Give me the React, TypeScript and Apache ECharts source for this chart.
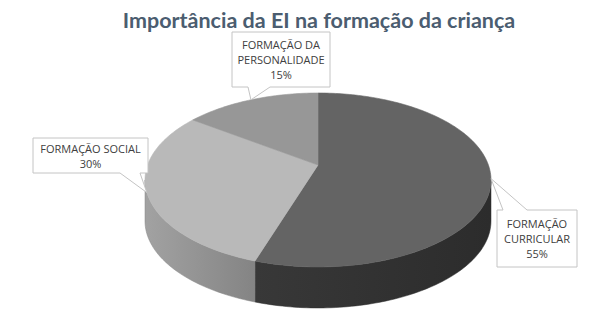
import React, { useEffect, useRef } from "react";
import * as echarts from "echarts";

// ---- data ----
const categories = ["FORMAÇÃO\nCURRICULAR", "FORMAÇÃO SOCIAL", "FORMAÇÃO DA\nPERSONALIDADE"];
const values = [55, 30, 15];
const chartTitle = "Importância da EI na formação da criança";

// ---- styles / layout ----
const topColors = ["#646464", "#b9b9b9", "#979797"];
const sideColors = [
  ["#2c2c2c", "#383838"],
  ["#848484", "#a2a2a2"],
  ["#7a7a7a", "#7a7a7a"],
];
// label callout boxes: [x0, y0, x1, y1, wedgeBaseFrom, wedgeBaseTo, edge]
const labelBoxes: any[] = [
  [497, 210, 577, 267, 503, 527, "top"],
  [33, 138, 148, 173, 120, 140, "bottom"],
  [232, 32, 330, 87, 248, 270, "bottom"],
];

const CX = 318, CY = 165, SX = 170.4, SY = 84.4, K = 0.1724, DEPTH = 41;

function proj(theta: number, dy = 0): number[] {
  const X = Math.sin(theta);
  const Z = -Math.cos(theta);
  const w = 1 - K * Z;
  return [CX + (SX * X) / w, CY + (SY * Z) / w + dy];
}

function arcPts(a: number, b: number, dy = 0): number[][] {
  const n = Math.max(2, Math.ceil(Math.abs(b - a) / 0.02));
  const pts: number[][] = [];
  for (let i = 0; i <= n; i++) pts.push(proj(a + ((b - a) * i) / n, dy));
  return pts;
}

export default function App() {
  const ref = useRef<HTMLDivElement>(null);
  useEffect(() => {
    if (!ref.current) return;
    const chart = echarts.init(ref.current, undefined, { renderer: "svg" });
    const total = values.reduce((s, v) => s + v, 0);
    const thR = Math.acos(-K);
    const thL = 2 * Math.PI - thR;

    const renderItem = (params: any, api: any) => {
      const i = params.dataIndex;
      let cum = 0;
      for (let j = 0; j < i; j++) cum += values[j];
      const v = api.value(0);
      const a = (cum / total) * 2 * Math.PI;
      const b = ((cum + v) / total) * 2 * Math.PI;
      const children: any[] = [];
      // side
      const sa = Math.max(a, thR);
      const sb = Math.min(b, thL);
      if (sb > sa) {
        const top = arcPts(sa, sb);
        const bot = arcPts(sa, sb, DEPTH).reverse();
        children.push({
          type: "polygon",
          shape: { points: top.concat(bot) },
          style: {
            fill: new echarts.graphic.LinearGradient(0, 0, 1, 0, [
              { offset: 0, color: sideColors[i][1] },
              { offset: 1, color: sideColors[i][0] },
            ]),
            stroke: sideColors[i][0],
            lineWidth: 0.5,
          },
        });
      }
      // top face
      children.push({
        type: "polygon",
        shape: { points: [[CX, CY]].concat(arcPts(a, b)) },
        style: { fill: topColors[i], stroke: topColors[i], lineWidth: 0.6 },
      });
      // label callout
      const tip = proj((a + b) / 2);
      const [x0, y0, x1, y1, w0, w1, edge] = labelBoxes[i];
      let pts: number[][];
      if (edge === "top") {
        pts = [[x0, y0], [w0, y0], tip, [w1, y0], [x1, y0], [x1, y1], [x0, y1]];
      } else {
        pts = [[x0, y0], [x1, y0], [x1, y1], [w1, y1], tip, [w0, y1], [x0, y1]];
      }
      children.push({
        type: "polygon",
        shape: { points: pts },
        style: { fill: "#ffffff", stroke: "#c4c4c4", lineWidth: 1 },
        z2: 10,
      });
      const pct = Math.round((v / total) * 100);
      children.push({
        type: "text",
        x: (x0 + x1) / 2,
        y: (y0 + y1) / 2,
        z2: 11,
        style: {
          text: categories[i] + "\n" + pct + "%",
          fontFamily: "Open Sans",
          fontSize: 11,
          lineHeight: 15,
          fill: "#404040",
          align: "center",
          verticalAlign: "middle",
        },
      });
      return { type: "group", children };
    };

    chart.setOption({
      animation: false,
      backgroundColor: "#ffffff",
      graphic: [
        {
          type: "text",
          x: 319,
          y: 20,
          style: {
            text: chartTitle,
            fontFamily: "Lato",
            fontWeight: "bold",
            fontSize: 21.5,
            fill: "#4b5d70",
            align: "center",
            verticalAlign: "middle",
          },
        },
      ],
      series: [
        {
          type: "custom",
          coordinateSystem: "none",
          renderItem,
          data: values.map((v) => [v]),
        },
      ],
    });
    return () => chart.dispose();
  }, []);
  return (
    <div
      ref={ref}
      style={{ position: "fixed", left: 0, top: 0, width: 605, height: 309 }}
    />
  );
}
